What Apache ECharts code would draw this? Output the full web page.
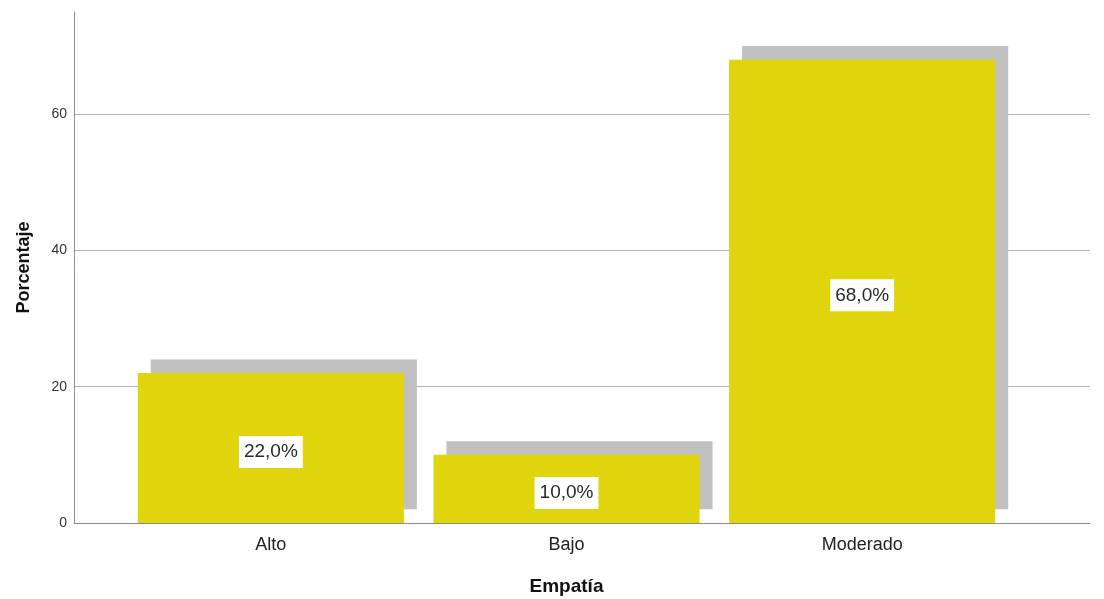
<!DOCTYPE html>
<html>
<head>
<meta charset="utf-8">
<script src="https://cdn.jsdelivr.net/npm/echarts@6/dist/echarts.min.js"></script>
<style>html,body{margin:0;padding:0;background:#fff}#c{width:1104px;height:599px}</style>
</head>
<body>
<div id="c"></div>
<script>
const categories = ['Alto', 'Bajo', 'Moderado'];
const percentages = [22, 10, 68];
const shadowLift = 2;
const yTicks = [0, 20, 40, 60];

const FONT = '"Liberation Sans", Arial, sans-serif';
const chart = echarts.init(document.getElementById('c'));
chart.setOption({
  animation: false,
  backgroundColor: '#fff',
  grid: [
    {left: 74, right: 14, top: 12, bottom: 76, containLabel: false, outerBoundsMode: 'none'},
    {left: 123, right: 94, top: 12, bottom: 76, containLabel: false, outerBoundsMode: 'none'}
  ],
  xAxis: [
    {gridIndex: 0, type: 'value', min: 0, max: 1, axisLine: {show: true, onZero: false, lineStyle: {color: '#8c8c8c', width: 1}},
     axisTick: {show: false}, axisLabel: {show: false}, splitLine: {show: false}},
    {gridIndex: 1, type: 'category', data: categories, axisLine: {show: false}, axisTick: {show: false},
     axisLabel: {fontFamily: FONT, fontSize: 18, color: '#222', margin: 13},
     name: 'Empatía', nameLocation: 'middle', nameGap: 54,
     nameTextStyle: {fontFamily: FONT, fontSize: 19, fontWeight: 'bold', color: '#111'}}
  ],
  yAxis: [
    {gridIndex: 0, type: 'value', min: 0, max: 75, interval: 20,
     axisLine: {show: true, lineStyle: {color: '#8c8c8c', width: 1}}, axisTick: {show: false},
     axisLabel: {fontFamily: FONT, fontSize: 14, color: '#333', margin: 7, showMaxLabel: false, padding: [7, 0, 0, 0],
       formatter: v => yTicks.indexOf(v) >= 0 ? String(v) : ''},
     splitLine: {show: true, showMaxLine: false, lineStyle: {color: '#b4b4b4', width: 1}},
     name: 'Porcentaje', nameLocation: 'middle', nameGap: 41,
     nameTextStyle: {fontFamily: FONT, fontSize: 18, fontWeight: 'bold', color: '#111'}},
    {gridIndex: 1, type: 'value', min: 0, max: 75, show: false, splitLine: {show: false}}
  ],
  series: [
    {
      type: 'custom', xAxisIndex: 1, yAxisIndex: 1, z: 1,
      data: percentages.map((v, i) => [i, v]),
      renderItem: function (params, api) {
        const top = api.coord([api.value(0), api.value(1) + shadowLift]);
        const bottom = api.coord([api.value(0), shadowLift]);
        const w = api.size([1, 0])[0] * 0.9;
        return {
          type: 'rect',
          shape: {x: top[0] - w / 2 + 13, y: top[1], width: w, height: bottom[1] - top[1]},
          style: {fill: '#c0c0c0'}
        };
      }
    },
    {
      type: 'bar', xAxisIndex: 1, yAxisIndex: 1, z: 3, barWidth: '90%',
      data: percentages,
      itemStyle: {color: '#e0d50d'},
      label: {
        show: true, position: 'inside', offset: [0, 4],
        formatter: p => p.value.toFixed(1).replace('.', ',') + '%',
        fontFamily: FONT, fontSize: 19, color: '#2a2a2a',
        backgroundColor: '#fff', padding: [7, 5, 6, 5]
      }
    }
  ]
});
</script>
</body>
</html>
